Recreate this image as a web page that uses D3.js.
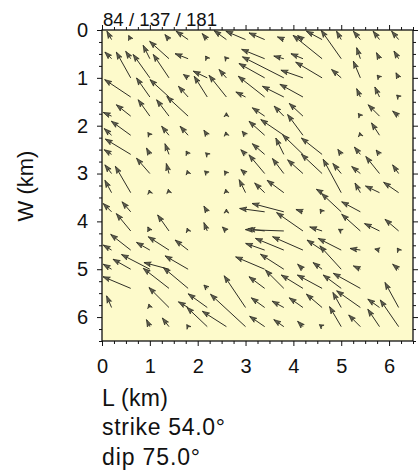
<!DOCTYPE html>
<html>
<head>
<meta charset="utf-8">
<script src="https://cdnjs.cloudflare.com/ajax/libs/d3/7.8.5/d3.min.js"></script>
<style>
  html, body { margin: 0; padding: 0; background: #fff; }
  svg { display: block; }
  text { font-family: "Liberation Sans", Arial, Helvetica, sans-serif; fill: #111; }
</style>
</head>
<body>
<script>
'use strict';

// subfault centres (km along strike / down dip) and slip vector components (cm)
const arrowL = [
  0.2,0.6,1.4,1.8,2.2,2.6,3.0,3.4,3.8,4.2,4.6,5.0,5.4,5.8,6.2,
  0.2,0.6,1.0,1.4,1.8,2.2,2.6,3.4,3.8,4.2,4.6,5.0,5.4,5.8,6.2,
  0.6,1.0,1.4,1.8,2.2,2.6,3.4,3.8,4.2,4.6,5.0,5.4,5.8,6.2,
  0.6,1.0,1.4,1.8,2.2,2.6,3.0,3.4,3.8,4.2,5.4,5.8,6.2,
  0.2,0.6,1.0,1.4,1.8,2.6,3.4,3.8,4.2,5.4,5.8,6.2,
  0.2,0.6,1.0,1.4,1.8,2.2,2.6,3.0,3.4,3.8,4.2,5.4,5.8,
  0.2,0.6,1.0,1.4,1.8,2.2,3.0,3.4,3.8,4.2,4.6,5.0,5.4,5.8,
  0.2,1.0,1.4,1.8,2.2,2.6,3.0,3.4,3.8,4.2,4.6,5.0,5.4,5.8,6.2,
  0.2,0.6,1.0,1.4,2.6,3.0,3.4,3.8,4.6,5.0,5.4,5.8,6.2,
  0.2,0.6,2.2,2.6,3.4,3.8,4.2,4.6,5.0,5.4,
  0.6,1.0,1.4,1.8,2.2,2.6,3.4,3.8,4.2,4.6,5.0,5.4,5.8,6.2,
  0.2,0.6,1.0,1.4,1.8,3.4,3.8,4.2,4.6,5.0,5.4,5.8,6.2,
  0.2,0.6,1.0,1.4,1.8,3.4,3.8,4.2,4.6,5.0,5.4,6.2,
  0.6,1.4,1.8,2.2,3.4,3.8,4.2,4.6,5.0,5.4,
  0.2,1.0,1.4,1.8,2.2,3.0,3.4,3.8,4.2,4.6,5.0,5.4,5.8,6.2,
  1.0,1.4,1.8,2.2,2.6,3.0,3.4,3.8,4.2,4.6,5.0,5.4,5.8,6.2
];
const arrowW = [
  0.2,0.2,0.2,0.2,0.2,0.2,0.2,0.2,0.2,0.2,0.2,0.2,0.2,0.2,0.2,
  0.6,0.6,0.6,0.6,0.6,0.6,0.6,0.6,0.6,0.6,0.6,0.6,0.6,0.6,0.6,
  1.0,1.0,1.0,1.0,1.0,1.0,1.0,1.0,1.0,1.0,1.0,1.0,1.0,1.0,
  1.4,1.4,1.4,1.4,1.4,1.4,1.4,1.4,1.4,1.4,1.4,1.4,1.4,
  1.8,1.8,1.8,1.8,1.8,1.8,1.8,1.8,1.8,1.8,1.8,1.8,
  2.2,2.2,2.2,2.2,2.2,2.2,2.2,2.2,2.2,2.2,2.2,2.2,2.2,
  2.6,2.6,2.6,2.6,2.6,2.6,2.6,2.6,2.6,2.6,2.6,2.6,2.6,2.6,
  3.0,3.0,3.0,3.0,3.0,3.0,3.0,3.0,3.0,3.0,3.0,3.0,3.0,3.0,3.0,
  3.4,3.4,3.4,3.4,3.4,3.4,3.4,3.4,3.4,3.4,3.4,3.4,3.4,
  3.8,3.8,3.8,3.8,3.8,3.8,3.8,3.8,3.8,3.8,
  4.2,4.2,4.2,4.2,4.2,4.2,4.2,4.2,4.2,4.2,4.2,4.2,4.2,4.2,
  4.6,4.6,4.6,4.6,4.6,4.6,4.6,4.6,4.6,4.6,4.6,4.6,4.6,
  5.0,5.0,5.0,5.0,5.0,5.0,5.0,5.0,5.0,5.0,5.0,5.0,
  5.4,5.4,5.4,5.4,5.4,5.4,5.4,5.4,5.4,5.4,
  5.8,5.8,5.8,5.8,5.8,5.8,5.8,5.8,5.8,5.8,5.8,5.8,5.8,5.8,
  6.2,6.2,6.2,6.2,6.2,6.2,6.2,6.2,6.2,6.2,6.2,6.2,6.2,6.2
];
const slipL = [
  -14,-6,-12,-36,-15,-37,-59,-47,-19,-16,-47,-14,-21,-19,-21,
  -20,-15,-20,-58,-39,-5,-5,-69,-30,-36,-87,-60,-11,-9,-14,
  -43,-50,-47,-14,-42,-22,-77,-124,-66,-79,-29,-21,-7,-8,
  -78,-40,-57,-29,-39,-52,-29,-79,-64,-69,-11,-14,-6,
  -25,-43,-35,-37,-64,0,-37,-29,-41,-6,-34,-18,
  -22,-58,-6,-22,-24,-10,-2,-10,-47,-69,-46,-2,-24,
  -22,-76,-10,-12,-6,-5,-14,-37,-24,-61,-62,-10,-18,-10,
  -20,-40,-8,-3,-8,-6,-14,-47,-34,-46,-62,-25,-26,-41,-18,
  -20,-46,-2,-2,-2,-19,-30,-50,-17,-54,-16,-42,-45,
  -25,-26,-10,0,-75,-95,-21,-6,-59,-56,
  -43,-6,-34,-3,-10,-12,-50,-115,-79,-37,-8,-56,-45,-41,
  -25,-60,-40,-62,-39,-57,-85,-91,-45,-69,-31,-14,-4,
  -25,-53,-85,-75,-69,-87,-70,-16,-27,-64,-21,-18,
  -83,-77,-74,-10,-47,-55,-65,-74,-54,-81,
  -15,-3,-60,-29,-57,-64,-40,-35,-41,-47,-25,-71,-35,-41,
  -10,-20,-4,-61,-72,-105,-45,-30,-16,-8,-35,-35,-35,-55
];
const slipW = [
  -25,-12,-15,-25,-18,-27,-25,-20,-8,-12,-25,-25,-25,-25,-25,
  -20,-22,-40,-52,-15,-8,-6,-28,-8,-15,-70,-85,-33,-18,-23,
  -77,-70,-70,-10,-20,-25,-43,-63,-23,-47,-25,-50,-8,-15,
  -52,-57,-52,-32,-62,-65,-15,-62,-32,-38,-25,-30,-6,
  -11,-34,-49,-49,-59,-10,-25,-30,-38,-8,-34,-15,
  -20,-42,-8,-27,-27,-15,-10,-12,-42,-47,-62,-8,-37,
  -14,-46,-19,-32,-10,-5,-14,-32,-49,-59,-49,-15,-22,-13,
  -26,-46,-30,-9,-8,-8,-12,-56,-45,-41,-58,-30,-21,-51,-26,
  -37,-79,-8,-10,-10,-39,-29,-37,-10,-100,-29,-20,-31,
  -25,-30,-17,-8,-10,-25,-7,-8,-55,-30,
  -52,-12,-48,-8,-25,-12,-6,-4,-55,-12,-5,-50,-22,-35,
  -15,-47,-23,-40,-30,-20,-35,-40,-30,-35,-5,-3,-6,
  -15,-30,-44,-20,-40,-37,-45,-15,-20,-70,-10,-15,
  -35,-60,-62,-10,-35,-55,-40,-40,-40,-45,
  -35,-10,-60,-17,-41,-95,-29,-19,-29,-40,-45,-50,-25,-75,
  -21,-26,-6,-58,-46,-97,-31,-21,-16,-6,-60,-35,-52,-80
];

const majorTicks = [0, 1, 2, 3, 4, 5, 6];
const titleText = "84 / 137 / 181";
const infoLines = ["L (km)", "strike 54.0°", "dip 75.0°"];

const kmPerCm = 1 / 143.4;   // arrow length on the plot per cm of slip
const extent = 6.5;          // fault is 6.5 x 6.5 km

(function () {
  let svg = "";

  window.onload = function () {
    svg = d3.select('body')
      .append('svg')
      .attr('width', 419)
      .attr('height', 472);

    let scales = drawAxes({ min: 102, max: 413 }, { min: 30, max: 341 });
    plotArrows(scales);
    makeLabels();
  };

  // background, frame and ticks on all four sides
  function drawAxes(rangeX, rangeY) {
    let xScale = d3.scaleLinear().domain([0, extent]).range([rangeX.min, rangeX.max]);
    let yScale = d3.scaleLinear().domain([0, extent]).range([rangeY.min, rangeY.max]);

    svg.append('rect')
      .attr('x', rangeX.min)
      .attr('y', rangeY.min)
      .attr('width', rangeX.max - rangeX.min)
      .attr('height', rangeY.max - rangeY.min)
      .attr('fill', '#fdfacb');

    let minor = d3.range(0, extent + 0.001, 0.25).filter(v => v % 1 !== 0);

    let sides = [
      { make: d3.axisLeft, scale: yScale, t: 'translate(' + rangeX.min + ',0)', labels: true, pad: 9 },
      { make: d3.axisBottom, scale: xScale, t: 'translate(0,' + rangeY.max + ')', labels: true, pad: 13 },
      { make: d3.axisTop, scale: xScale, t: 'translate(0,' + rangeY.min + ')', labels: false, pad: 3 },
      { make: d3.axisRight, scale: yScale, t: 'translate(' + rangeX.max + ',0)', labels: false, pad: 3 }
    ];

    sides.forEach((s) => {
      // minor ticks every 0.25 km
      svg.append('g')
        .attr('transform', s.t)
        .call(s.make(s.scale).tickValues(minor).tickSize(3).tickFormat(''))
        .call(g => g.select('.domain').remove());

      let g = svg.append('g')
        .attr('transform', s.t)
        .call(s.make(s.scale).tickValues(majorTicks).tickSize(5)
          .tickPadding(s.pad)
          .tickFormat(s.labels ? d3.format('d') : ''));
      g.select('.domain').remove();
      g.selectAll('text')
        .style('font-family', '"Liberation Sans", Arial, sans-serif')
        .style('font-size', '20px')
        .attr('fill', '#111');
    });

    svg.selectAll('.tick line').attr('stroke', '#111').attr('stroke-width', 1);

    svg.append('rect')
      .attr('x', rangeX.min)
      .attr('y', rangeY.min)
      .attr('width', rangeX.max - rangeX.min)
      .attr('height', rangeY.max - rangeY.min)
      .attr('fill', 'none')
      .attr('stroke', '#111')
      .attr('stroke-width', 1.3);

    return { x: xScale, y: yScale };
  }

  // slip vectors: tail at the subfault centre
  function plotArrows(map) {
    let arrows = arrowL.map((l, i) => ({
      l: l,
      w: arrowW[i],
      l2: l + slipL[i] * kmPerCm,
      w2: arrowW[i] + slipW[i] * kmPerCm
    }));

    let g = svg.append('g');

    g.selectAll('.shaft')
      .data(arrows)
      .enter()
      .append('line')
      .attr('class', 'shaft')
      .attr('x1', d => map.x(d.l))
      .attr('y1', d => map.y(d.w))
      .attr('x2', d => map.x(d.l2))
      .attr('y2', d => map.y(d.w2))
      .attr('stroke', '#2e2e26')
      .attr('stroke-width', 1);

    g.selectAll('.head')
      .data(arrows)
      .enter()
      .append('path')
      .attr('class', 'head')
      .attr('d', d => headPath(map.x(d.l), map.y(d.w), map.x(d.l2), map.y(d.w2)))
      .attr('fill', '#5e5e50')
      .attr('stroke', '#26261e')
      .attr('stroke-width', 0.7);
  }

  function headPath(tx, ty, hx, hy) {
    let dx = hx - tx, dy = hy - ty;
    let len = Math.sqrt(dx * dx + dy * dy) || 1;
    let ux = dx / len, uy = dy / len;
    let hl = Math.min(7, Math.max(4, len)), hw = 2.4;
    let bx = hx - ux * hl, by = hy - uy * hl;
    return 'M' + hx + ',' + hy +
      'L' + (bx - uy * hw) + ',' + (by + ux * hw) +
      'L' + (bx + ux * 1.5) + ',' + (by + uy * 1.5) +
      'L' + (bx + uy * hw) + ',' + (by - ux * hw) + 'Z';
  }

  // title, axis label and fault info
  function makeLabels() {
    svg.append('text')
      .attr('x', 103)
      .attr('y', 26)
      .style('font-size', '18px')
      .attr('textLength', 114)
      .attr('lengthAdjust', 'spacingAndGlyphs')
      .text(titleText);

    svg.append('text')
      .attr('transform', 'translate(33,186)rotate(-90)')
      .attr('text-anchor', 'middle')
      .style('font-size', '22px')
      .text('W (km)');

    let baselines = [406, 435, 465];
    let widths = [66, 123, 98];
    infoLines.forEach((t, i) => {
      svg.append('text')
        .attr('x', 102)
        .attr('y', baselines[i])
        .style('font-size', '23px')
        .attr('textLength', widths[i])
        .attr('lengthAdjust', 'spacing')
        .text(t);
    });
  }

})();
</script>
</body>
</html>
